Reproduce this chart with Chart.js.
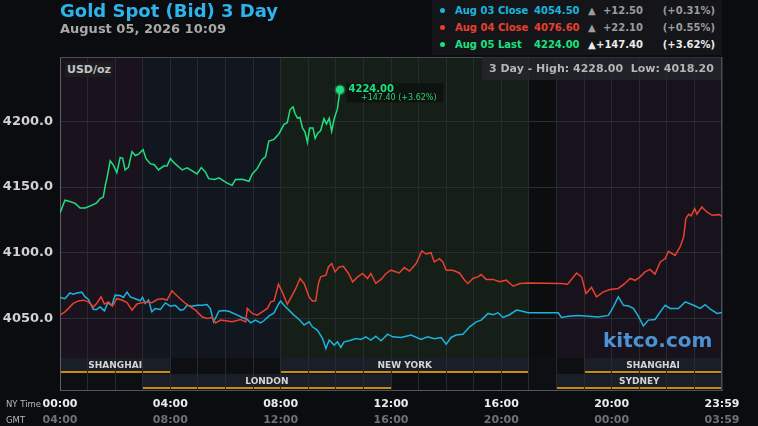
<!DOCTYPE html>
<html>
<head>
<meta charset="utf-8">
<title>Gold Spot (Bid) 3 Day</title>
<script src="https://cdn.jsdelivr.net/npm/chart.js@4.4.1/dist/chart.umd.min.js"></script>
<style>
  html, body { margin: 0; padding: 0; background: #0b0c0f; }
  #wrap { position: relative; width: 758px; height: 426px; overflow: hidden; font-family: "DejaVu Sans", sans-serif; }
  #wrap canvas { position: absolute; left: 0; top: 0; }
  .abs { position: absolute; white-space: nowrap; pointer-events: none; }
  #title { left: 60px; top: 2px; font-size: 18px; line-height: 18px; font-weight: bold; color: #2eb4ec; }
  #stamp { left: 60px; top: 22px; font-size: 13px; line-height: 13px; font-weight: bold; color: #a9a9a9; }
  #legend { left: 432px; top: 0; width: 290px; height: 55px; background: #131519; }
  .row { position: absolute; left: 0; width: 290px; height: 17px; line-height: 17px; font-size: 10px; font-weight: bold; }
  .row span { position: absolute; top: 0; }
  .dot { width: 5px; height: 5px; border-radius: 50%; top: 6px !important; left: 8px; }
  #hilo { left: 482px; top: 57px; width: 239px; height: 23px; line-height: 23px; background: rgba(38,40,45,0.75); color: #b5b5b5; font-size: 11px; font-weight: bold; text-indent: 7px; white-space: pre; }
  #unit { left: 65px; top: 62px; width: 48px; height: 15px; line-height: 15px; background: #1b1d21; color: #c4c4c4; font-size: 11px; font-weight: bold; text-align: center; }
  #brand { left: 603px; top: 330px; font-size: 20px; line-height: 20px; font-weight: bold; color: #4d92d2; }
  .side { left: 6px; font-size: 8.5px; line-height: 10px; color: #b8b8b8; }
</style>
</head>
<body>
<div id="wrap">
  <canvas id="gold-chart" width="758" height="426"></canvas>
  <div id="title" class="abs">Gold Spot (Bid) 3 Day</div>
  <div id="stamp" class="abs">August 05, 2026 10:09</div>
  <div id="legend" class="abs"></div>
  <div id="hilo" class="abs"></div>
  <div id="unit" class="abs">USD/oz</div>
  <div id="brand" class="abs">kitco.com</div>
  <div class="abs side" style="top:399px">NY Time</div>
  <div class="abs side" style="top:415px">GMT</div>
</div>
<script>
// hours after 00:00 NY time, prices in USD/oz
var cyanTimes = [0,0.18,0.36,0.48,0.61,0.79,0.91,1.03,1.21,1.33,
  1.45,1.61,1.73,1.88,2.0,2.18,2.3,2.43,2.55,2.73,
  2.91,2.99,3.09,3.21,3.33,3.45,3.64,3.82,4.0,4.18,
  4.36,4.48,4.61,4.79,4.97,5.15,5.33,5.45,5.57,5.76,
  5.94,6.12,6.24,6.43,6.61,6.79,6.91,7.09,7.27,7.39,
  7.57,7.76,7.92,8.0,8.12,8.3,8.48,8.67,8.85,9.03,
  9.15,9.33,9.52,9.64,9.76,9.94,10.06,10.18,10.3,10.48,
  10.73,10.91,11.09,11.27,11.45,11.64,11.88,12.06,12.36,12.73,
  13.09,13.33,13.57,13.82,14.0,14.18,14.36,14.61,14.85,15.09,
  15.27,15.52,15.7,15.88,16.06,16.3,16.55,16.73,16.97,18.06,
  18.18,18.43,18.79,19.15,19.52,19.88,20.06,20.24,20.43,20.61,
  20.79,20.97,21.15,21.33,21.57,21.76,21.94,22.12,22.42,22.67,
  22.97,23.21,23.39,23.58,23.82,24];
var cyanValues = [4065.9,4065,4069.4,4068.4,4069.4,4070,4066.4,4064.4,4056.8,4056.8,
  4058.8,4055.7,4061.8,4060,4067.7,4067.4,4066,4070,4066.4,4065,
  4063.4,4066,4061.4,4064,4055,4057.5,4056.8,4061.8,4059.3,4060,
  4056.3,4056.8,4060,4059.3,4060,4060,4060.5,4057.5,4047.4,4055.5,
  4056,4055.5,4054.3,4052.5,4050.7,4049.2,4046.6,4048.7,4046.6,4048.2,
  4051.7,4054.2,4060.8,4063.3,4060,4056.3,4052.5,4049.2,4044.9,4047.4,
  4043.6,4041.1,4034.7,4027.1,4033.5,4029.7,4032.2,4027.9,4032.2,4033,
  4034.7,4034,4036,4033.5,4036.5,4033,4038,4036,4035.5,4037.3,
  4034,4036,4034.6,4035.5,4030.4,4035.5,4037.3,4038,4043.6,4047.4,
  4048.7,4053.8,4052.8,4054.3,4050.7,4052.8,4056.3,4055.7,4054.3,4054.3,
  4050.7,4051.6,4052.3,4051.6,4051,4052.3,4058.8,4066.4,4060,4059.4,
  4057.6,4051.6,4044.3,4048.7,4049.2,4055,4060,4057.6,4057.6,4062.6,
  4060,4057.6,4060.5,4057,4053.8,4054.5];

var redTimes = [0,0.18,0.36,0.48,0.67,0.85,1.03,1.21,1.33,1.49,
  1.61,1.76,1.9,2.06,2.24,2.43,2.61,2.79,2.97,3.15,
  3.33,3.52,3.7,3.88,4.06,4.18,4.36,4.55,4.73,4.91,
  5.15,5.33,5.52,5.64,5.82,6.0,6.24,6.55,6.73,6.79,
  6.97,7.15,7.33,7.52,7.64,7.76,7.92,8.06,8.24,8.42,
  8.55,8.7,8.85,9.03,9.15,9.27,9.37,9.45,9.64,9.73,
  9.85,9.97,10.12,10.27,10.46,10.61,10.79,10.97,11.15,11.27,
  11.45,11.64,11.82,12.0,12.3,12.48,12.67,12.91,13.12,13.27,
  13.45,13.57,13.76,13.88,14.0,14.24,14.48,14.67,14.79,14.97,
  15.15,15.27,15.45,15.7,15.94,16.18,16.43,16.67,16.97,18.18,
  18.4,18.73,18.91,19.07,19.27,19.45,19.7,19.94,20.24,20.48,
  20.67,20.85,21.03,21.21,21.39,21.57,21.76,21.94,22.06,22.3,
  22.48,22.61,22.69,22.79,22.88,23.01,23.09,23.27,23.45,23.64,
  23.88,24];
var redValues = [4052.5,4055,4058.8,4061.4,4063.3,4063.9,4062.6,4058.8,4061.4,4066.4,
  4061,4062.6,4059.3,4065,4064,4062,4056.3,4061,4062,4062.6,
  4062,4064.4,4065,4064,4071,4068.4,4065,4061.4,4058.8,4056.3,
  4051.2,4050,4050.7,4046.6,4048.7,4048.2,4047.4,4049.2,4047.4,4057.6,
  4053.8,4052.5,4055,4057.6,4062.6,4063.3,4076,4070,4060.8,4067.7,
  4072.8,4080.4,4076.6,4066.4,4063.3,4063.3,4076.6,4081.6,4082.9,4089.2,
  4091.8,4085.4,4089.2,4089.7,4084.2,4077.8,4081.6,4084.2,4080.4,4084.2,
  4076.6,4079.7,4084.2,4086.7,4084.6,4088.7,4086,4091.8,4101.4,4099,
  4100,4093,4095.5,4093,4086.7,4086.7,4084.6,4079.1,4076.6,4080.4,
  4081.6,4083.4,4079.7,4079.7,4078,4079.1,4074.5,4076.6,4077,4076.6,
  4076,4084.6,4081.6,4069,4073.6,4066.4,4070.2,4072,4072.8,4076.6,
  4080.4,4079,4081.6,4085.4,4087.3,4083.7,4093,4095.5,4101.1,4098,
  4104.4,4112,4126,4129.3,4128,4133.6,4129.3,4134.8,4131,4128.5,
  4129,4127.8];

var greenTimes = [0,0.18,0.36,0.55,0.73,0.91,1.15,1.33,1.45,1.57,
  1.64,1.71,1.82,1.94,2.06,2.18,2.27,2.36,2.48,2.61,
  2.73,2.85,3.01,3.12,3.27,3.42,3.57,3.76,3.88,4.0,
  4.16,4.43,4.61,4.85,4.97,5.12,5.27,5.39,5.61,5.76,
  6.06,6.24,6.36,6.61,6.85,6.97,7.15,7.33,7.45,7.57,
  7.76,7.94,8.12,8.24,8.34,8.45,8.52,8.61,8.7,8.79,
  8.88,8.97,9.05,9.17,9.25,9.33,9.45,9.57,9.66,9.76,
  9.85,9.94,10.06,10.15];
var greenValues = [4130.3,4140,4139,4137.6,4134,4134,4136,4138,4141,4142.4,
  4151,4157.6,4170,4166.5,4161,4172.4,4172,4163,4165,4177,
  4174,4175,4178.5,4171.6,4167.8,4167,4163,4166,4166,4171.6,
  4168,4163,4164.6,4161.5,4160,4164.8,4161.5,4156.4,4155.7,4157,
  4153,4151.3,4155.7,4156,4154.4,4160,4164,4171,4173,4185,
  4186.3,4190.6,4197.7,4199,4209,4211,4206,4202.5,4203,4195,
  4192,4184,4195,4195,4187,4190.6,4193,4202,4198,4202.5,
  4192.4,4202,4209.7,4224];

var legendNames = ["Aug 03 Close", "Aug 04 Close", "Aug 05 Last"];
var legendPrices = [4054.50, 4076.60, 4224.00];
var legendChanges = [12.50, 22.10, 147.40];
var legendPcts = [0.31, 0.55, 3.62];
var threeDayHigh = 4228.00;
var threeDayLow = 4018.20;

var yTicks = [4050, 4100, 4150, 4200];
var tickHours = [0, 4, 8, 12, 16, 20, 24];
var nyLabels = ["00:00", "04:00", "08:00", "12:00", "16:00", "20:00", "23:59"];
var gmtLabels = ["04:00", "08:00", "12:00", "16:00", "20:00", "00:00", "03:59"];

// background bands behind the price lines
var regionStart = [0, 3, 8, 17, 18];
var regionEnd = [3, 8, 17, 18, 24];
var regionColors = ["#1a131d", "#11161f", "#161e18", "#0c0d0f", "#17121c"];

// trading sessions, row 0 = upper strip, row 1 = lower strip
var sessionNames = ["SHANGHAI", "LONDON", "NEW YORK", "SYDNEY", "SHANGHAI"];
var sessionStart = [0, 3, 8, 18, 19];
var sessionEnd = [4, 12, 17, 24, 24];
var sessionRow = [0, 1, 0, 1, 0];

var lineColors = ["#1ab4dc", "#e8402f", "#1ee07f"];

function toPoints(times, values) {
  return times.map(function (t, i) { return { x: t, y: values[i] }; });
}

// header legend
var legend = document.getElementById("legend");
legendNames.forEach(function (name, i) {
  var row = document.createElement("div");
  row.className = "row";
  row.style.top = (2.2 + i * 16.7) + "px";
  var strong = i === legendNames.length - 1;
  var changeColor = strong ? "#ececec" : "#9c9c9c";
  row.innerHTML =
    '<span class="dot" style="background:' + lineColors[i] + '"></span>' +
    '<span style="left:23px;color:' + lineColors[i] + '">' + name + '</span>' +
    '<span style="left:102px;color:' + lineColors[i] + '">' + legendPrices[i].toFixed(2) + '</span>' +
    '<span style="left:156px;color:' + changeColor + '">\u25B2</span>' +
    '<span style="right:79px;color:' + changeColor + '">+' + legendChanges[i].toFixed(2) + '</span>' +
    '<span style="right:7px;color:' + changeColor + '">(+' + legendPcts[i].toFixed(2) + '%)</span>';
  legend.appendChild(row);
});
document.getElementById("hilo").textContent =
  "3 Day - High: " + threeDayHigh.toFixed(2) + "  Low: " + threeDayLow.toFixed(2);

var backdrop = {
  id: "backdrop",
  beforeDraw: function (chart) {
    var ctx = chart.ctx, a = chart.chartArea, x = chart.scales.x;
    var stripTop = a.bottom - 32;
    ctx.save();
    regionStart.forEach(function (s, i) {
      var x0 = x.getPixelForValue(s), x1 = x.getPixelForValue(regionEnd[i]);
      ctx.fillStyle = regionColors[i];
      ctx.fillRect(x0, a.top, x1 - x0, stripTop - a.top);
    });
    ctx.fillStyle = "#0e0f13";
    ctx.fillRect(a.left, stripTop, a.right - a.left, 32);
    sessionNames.forEach(function (name, i) {
      var x0 = x.getPixelForValue(sessionStart[i]), x1 = x.getPixelForValue(sessionEnd[i]);
      var top = stripTop + sessionRow[i] * 16;
      ctx.fillStyle = "#1a1e27";
      ctx.fillRect(x0, top, x1 - x0, 15);
      ctx.fillStyle = "#c98a12";
      ctx.fillRect(x0, top + 13, x1 - x0, 2);
    });
    ctx.restore();
  },
  beforeDatasetsDraw: function (chart) {
    var ctx = chart.ctx, a = chart.chartArea, x = chart.scales.x;
    var stripTop = a.bottom - 32;
    ctx.save();
    ctx.strokeStyle = "#4a4e56";
    ctx.lineWidth = 1;
    ctx.beginPath();
    ctx.moveTo(a.left, a.top + 0.5);
    ctx.lineTo(a.right, a.top + 0.5);
    ctx.moveTo(a.right - 0.5, a.top);
    ctx.lineTo(a.right - 0.5, a.bottom);
    ctx.stroke();
    ctx.font = "bold 9px 'DejaVu Sans'";
    ctx.fillStyle = "#d4d4d4";
    ctx.textAlign = "center";
    ctx.textBaseline = "middle";
    sessionNames.forEach(function (name, i) {
      var mid = x.getPixelForValue((sessionStart[i] + sessionEnd[i]) / 2);
      ctx.fillText(name, mid, stripTop + sessionRow[i] * 16 + 8);
    });
    ctx.restore();
  },
  afterDatasetsDraw: function (chart) {
    var ctx = chart.ctx;
    var pts = chart.getDatasetMeta(0).data;
    var p = pts[pts.length - 1];
    var last = legendNames.length - 1;
    ctx.save();
    ctx.fillStyle = "rgba(14,18,15,0.92)";
    ctx.fillRect(p.x + 6.5, p.y - 6.6, 97, 19);
    ctx.textBaseline = "middle";
    ctx.textAlign = "left";
    ctx.fillStyle = "#1ee07f";
    ctx.font = "bold 10px 'DejaVu Sans'";
    ctx.fillText(legendPrices[last].toFixed(2), p.x + 8.5, p.y);
    ctx.fillStyle = "#2fcf78";
    ctx.font = "8px 'DejaVu Sans'";
    ctx.fillText("+" + legendChanges[last].toFixed(2) + " (+" + legendPcts[last].toFixed(2) + "%)", p.x + 21, p.y + 8.4);
    ctx.restore();
  }
};

Chart.defaults.font.family = "'DejaVu Sans', sans-serif";

var ctx = document.getElementById("gold-chart");
window.goldChart = new Chart(ctx, {
  type: "line",
  data: {
    datasets: [
      {
        label: legendNames[2],
        data: toPoints(greenTimes, greenValues),
        borderColor: lineColors[2],
        backgroundColor: lineColors[2],
        borderWidth: 1.5,
        tension: 0,
        pointRadius: function (c) { return c.dataIndex === greenValues.length - 1 ? 4 : 0; },
        pointBorderWidth: 3,
        pointBorderColor: "rgba(30,224,127,0.35)",
        pointBackgroundColor: lineColors[2]
      },
      {
        label: legendNames[1],
        data: toPoints(redTimes, redValues),
        borderColor: lineColors[1],
        borderWidth: 1.5,
        tension: 0,
        pointRadius: 0
      },
      {
        label: legendNames[0],
        data: toPoints(cyanTimes, cyanValues),
        borderColor: lineColors[0],
        borderWidth: 1.5,
        tension: 0,
        pointRadius: 0
      }
    ]
  },
  options: {
    responsive: false,
    animation: false,
    devicePixelRatio: 1,
    layout: { padding: { left: 0, right: 36, top: 57, bottom: 0 } },
    plugins: { legend: { display: false }, tooltip: { enabled: false } },
    scales: {
      x: {
        type: "linear",
        min: 0,
        max: 24,
        weight: 0,
        afterFit: function (s) { s.height = 24; },
        grid: {
          drawTicks: false,
          color: function (c) { return c.tick && c.tick.value === 0 ? "#5c6169" : "#262a31"; }
        },
        border: { display: true, color: "#4d5560" },
        ticks: {
          stepSize: 1,
          autoSkip: false,
          maxRotation: 0,
          padding: 8,
          color: "#ececec",
          font: { size: 11, weight: "bold" },
          callback: function (v) {
            var i = tickHours.indexOf(v);
            return i >= 0 ? nyLabels[i] : "";
          }
        }
      },
      gmt: {
        type: "linear",
        position: "bottom",
        min: 0,
        max: 24,
        weight: 1,
        afterFit: function (s) { s.height = 12; },
        grid: { display: false, drawTicks: false },
        border: { display: false },
        afterBuildTicks: function (axis) {
          axis.ticks = tickHours.map(function (h) { return { value: h }; });
        },
        ticks: {
          autoSkip: false,
          maxRotation: 0,
          padding: 0,
          color: "#6e7177",
          font: { size: 11, weight: "bold" },
          callback: function (v) {
            var i = tickHours.indexOf(v);
            return i >= 0 ? gmtLabels[i] : "";
          }
        }
      },
      y: {
        min: 3995.5,
        max: 4249,
        afterFit: function (s) { s.width = 60; },
        afterBuildTicks: function (axis) {
          axis.ticks = yTicks.map(function (v) { return { value: v }; });
        },
        grid: { drawTicks: false, color: "#2a2e36" },
        border: { display: true, color: "#5c6169" },
        ticks: {
          padding: 7,
          color: "#d2d2d2",
          font: { size: 13, weight: "bold" },
          callback: function (v) { return Number(v).toFixed(1); }
        }
      }
    }
  },
  plugins: [backdrop]
});
</script>
</body>
</html>
